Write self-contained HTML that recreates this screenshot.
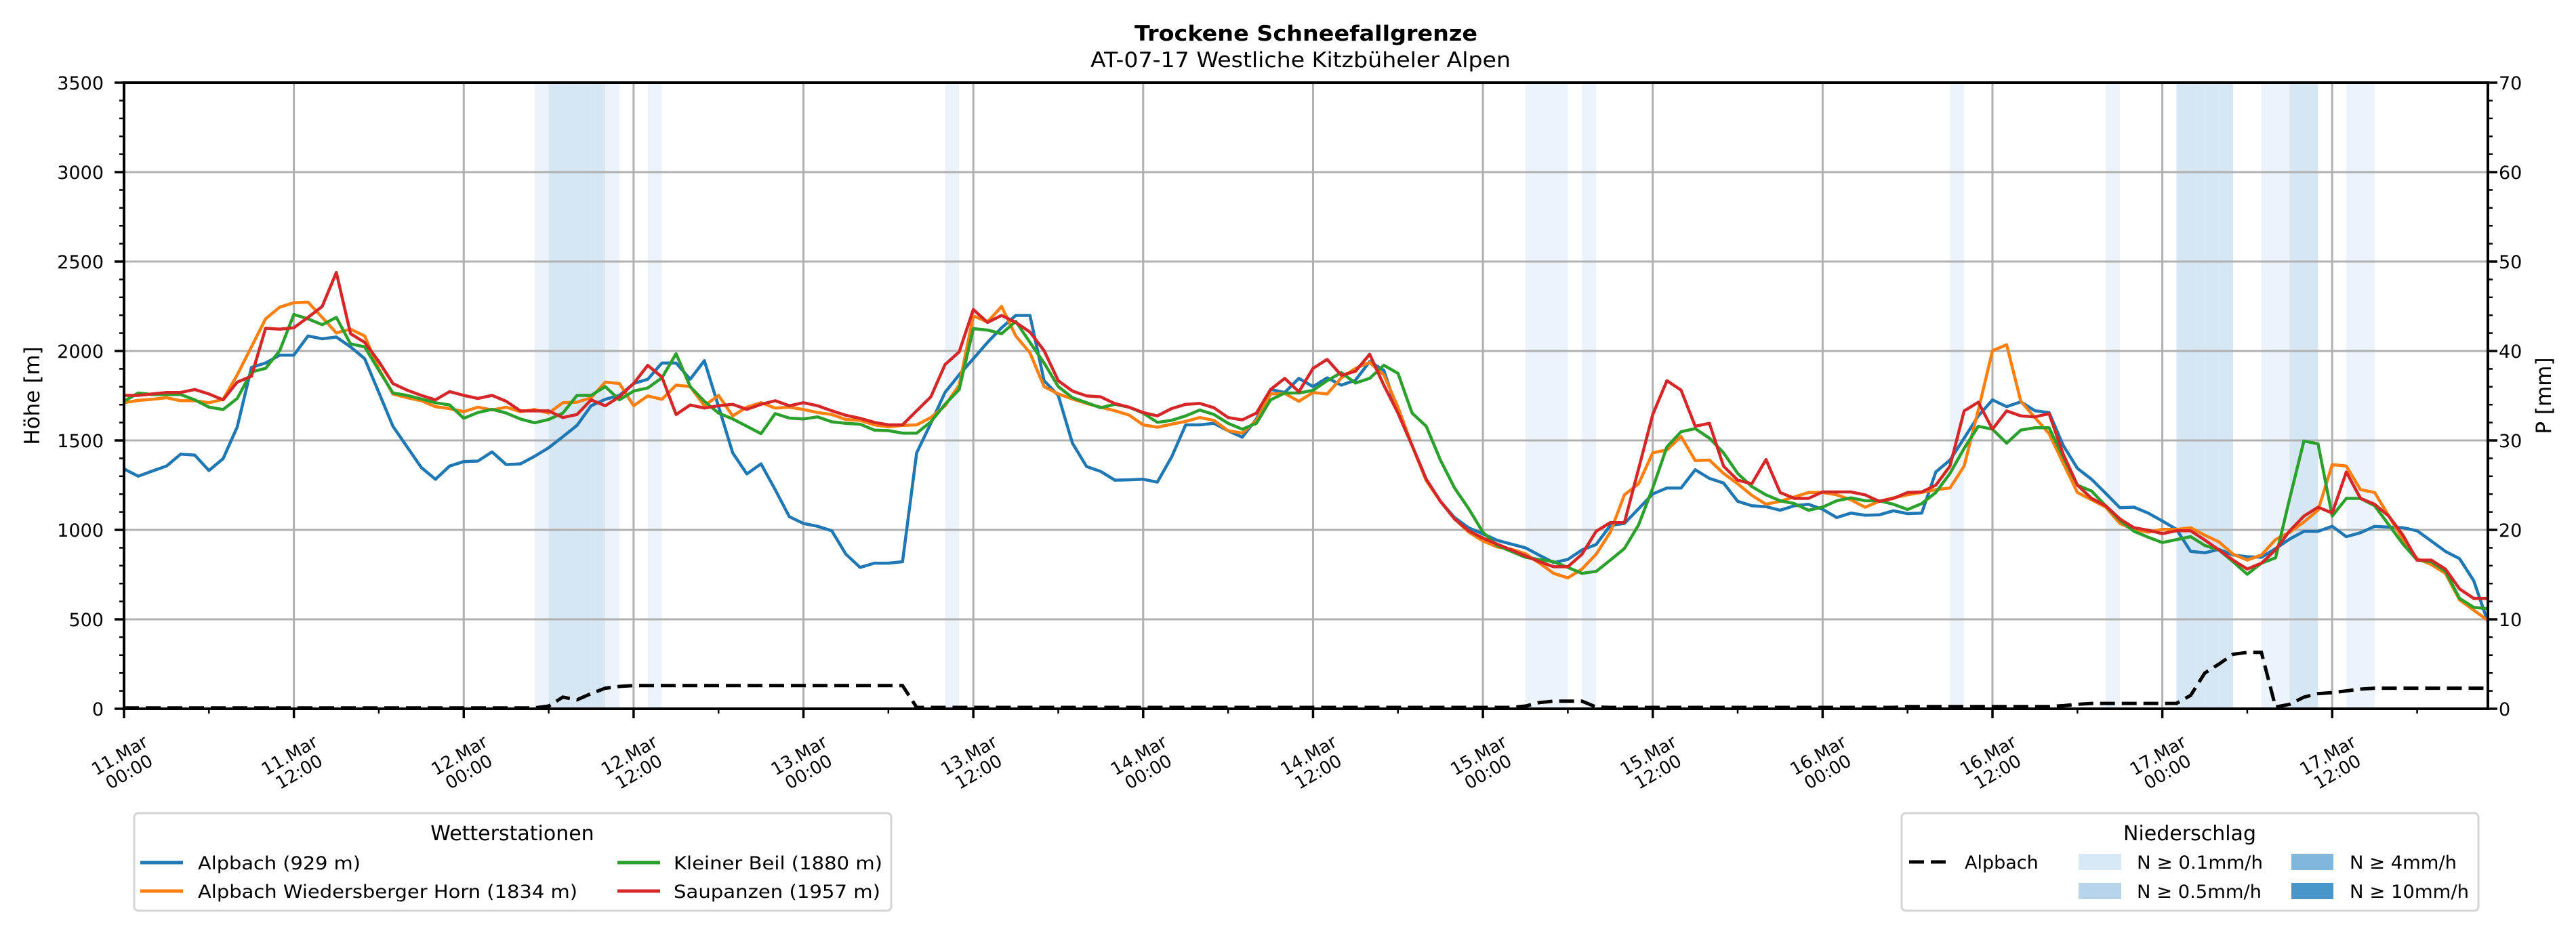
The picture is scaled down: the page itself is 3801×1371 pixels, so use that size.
<!DOCTYPE html>
<html><head><meta charset="utf-8"><title>Trockene Schneefallgrenze</title>
<style>
html,body{margin:0;padding:0;background:#fff;}
svg{display:block;font-family:"Liberation Sans","DejaVu Sans",sans-serif;}
</style></head>
<body>
<svg id="chart" width="3801" height="1371" viewBox="0 0 3801 1371" xmlns="http://www.w3.org/2000/svg">
<rect x="0" y="0" width="3801" height="1371" fill="#fff"/>
<text x="1927" y="60" text-anchor="middle" font-size="31" font-weight="bold" textLength="506" lengthAdjust="spacingAndGlyphs" font-family="DejaVu Sans, Liberation Sans, sans-serif">Trockene Schneefallgrenze</text>
<text x="1919" y="99" text-anchor="middle" font-size="31" textLength="620" lengthAdjust="spacingAndGlyphs" font-family="DejaVu Sans, Liberation Sans, sans-serif">AT-07-17 Westliche Kitzbüheler Alpen</text>
<g id="bands"></g>
<g id="grid"></g>
<g id="series"></g>
<g id="axes"></g>
<text transform="translate(58,584) rotate(-90)" text-anchor="middle" font-size="31" font-family="DejaVu Sans, Liberation Sans, sans-serif">Höhe [m]</text>
<text transform="translate(3764,584) rotate(-90)" text-anchor="middle" font-size="31" font-family="DejaVu Sans, Liberation Sans, sans-serif">P [mm]</text>
<g id="legend1">
<rect x="198" y="1200" width="1117" height="144" rx="6" fill="#fff" stroke="#d4d4d4" stroke-width="3"/>
<text x="756" y="1240" text-anchor="middle" font-size="30" font-family="DejaVu Sans, Liberation Sans, sans-serif">Wetterstationen</text>
<g><line x1="207" y1="1273" x2="270" y2="1273" stroke="#1f77b4" stroke-width="5"/><text x="292" y="1283" font-size="27" font-family="DejaVu Sans, Liberation Sans, sans-serif" textLength="240" lengthAdjust="spacingAndGlyphs">Alpbach (929 m)</text></g>
<g><line x1="207" y1="1315" x2="270" y2="1315" stroke="#ff7f0e" stroke-width="5"/><text x="292" y="1325" font-size="27" font-family="DejaVu Sans, Liberation Sans, sans-serif" textLength="560" lengthAdjust="spacingAndGlyphs">Alpbach Wiedersberger Horn (1834 m)</text></g>
<g><line x1="911" y1="1273" x2="974" y2="1273" stroke="#2ca02c" stroke-width="5"/><text x="994" y="1283" font-size="27" font-family="DejaVu Sans, Liberation Sans, sans-serif" textLength="308" lengthAdjust="spacingAndGlyphs">Kleiner Beil (1880 m)</text></g>
<g><line x1="911" y1="1315" x2="974" y2="1315" stroke="#d62728" stroke-width="5"/><text x="994" y="1325" font-size="27" font-family="DejaVu Sans, Liberation Sans, sans-serif" textLength="305" lengthAdjust="spacingAndGlyphs">Saupanzen (1957 m)</text></g>
</g>
<g id="legend2">
<rect x="2806" y="1200" width="851" height="144" rx="6" fill="#fff" stroke="#d4d4d4" stroke-width="3"/>
<text x="3231" y="1240" text-anchor="middle" font-size="30" font-family="DejaVu Sans, Liberation Sans, sans-serif">Niederschlag</text>
<g><line x1="2817" y1="1272" x2="2872" y2="1272" stroke="#000" stroke-width="5" stroke-dasharray="22 10"/><text x="2899" y="1282" font-size="27" font-family="DejaVu Sans, Liberation Sans, sans-serif">Alpbach</text></g>
<g><rect x="3067" y="1260" width="63" height="24" fill="#d9e8f5"/><text x="3153" y="1282" font-size="27" font-family="DejaVu Sans, Liberation Sans, sans-serif" textLength="186" lengthAdjust="spacingAndGlyphs">N ≥ 0.1mm/h</text></g>
<g><rect x="3067" y="1303" width="63" height="24" fill="#b8d4ea"/><text x="3153" y="1325" font-size="27" font-family="DejaVu Sans, Liberation Sans, sans-serif" textLength="184" lengthAdjust="spacingAndGlyphs">N ≥ 0.5mm/h</text></g>
<g><rect x="3381" y="1260" width="62" height="24" fill="#80b7da"/><text x="3467" y="1282" font-size="27" font-family="DejaVu Sans, Liberation Sans, sans-serif" textLength="158" lengthAdjust="spacingAndGlyphs">N ≥ 4mm/h</text></g>
<g><rect x="3381" y="1303" width="62" height="24" fill="#4a96c9"/><text x="3467" y="1325" font-size="27" font-family="DejaVu Sans, Liberation Sans, sans-serif" textLength="176" lengthAdjust="spacingAndGlyphs">N ≥ 10mm/h</text></g>
</g>
</svg>
<script>
// ---- data (hourly, starting 11.Mar 00:00) ----
const alpbach = [1341,1300,1329,1357,1423,1418,1332,1398,1576,1908,1933,1977,1977,2084,2068,2078,2023,1957,1768,1579,1464,1349,1283,1357,1382,1385,1436,1365,1369,1411,1459,1521,1584,1694,1730,1752,1818,1842,1933,1933,1842,1946,1690,1431,1313,1369,1225,1074,1036,1020,995,864,790,814,814,822,1431,1596,1768,1867,1957,2048,2130,2199,2199,1834,1752,1485,1354,1327,1278,1280,1283,1267,1406,1587,1587,1596,1554,1518,1620,1785,1768,1847,1801,1850,1809,1837,1941,1892,1653,1472,1283,1160,1069,1011,978,942,921,900,858,817,835,888,918,1025,1036,1118,1201,1234,1234,1336,1288,1262,1160,1135,1130,1110,1135,1143,1115,1069,1094,1082,1084,1107,1091,1094,1324,1390,1513,1637,1727,1689,1716,1666,1656,1472,1344,1283,1204,1124,1127,1094,1050,1003,880,872,891,860,850,847,896,949,992,992,1020,962,984,1020,1015,1012,995,938,880,839,716,485];
const wiedersberger = [1711,1724,1730,1739,1722,1722,1711,1730,1867,2023,2180,2245,2270,2273,2188,2101,2122,2084,1900,1760,1739,1722,1689,1678,1661,1686,1670,1686,1661,1673,1653,1711,1714,1739,1826,1818,1694,1749,1730,1809,1801,1694,1752,1637,1686,1711,1681,1686,1673,1656,1645,1617,1612,1587,1576,1584,1587,1628,1694,1809,2196,2163,2249,2084,1990,1801,1760,1732,1707,1686,1666,1642,1587,1574,1591,1607,1628,1612,1554,1541,1612,1760,1763,1719,1768,1760,1850,1903,1936,1867,1686,1472,1275,1160,1061,987,938,905,892,867,814,757,732,781,864,987,1196,1258,1431,1447,1522,1387,1390,1316,1258,1193,1143,1160,1184,1209,1209,1196,1168,1127,1160,1179,1196,1209,1225,1234,1357,1670,2002,2035,1719,1628,1538,1373,1209,1168,1127,1036,1003,987,1003,1003,1012,970,933,864,831,860,946,987,1044,1110,1365,1357,1225,1209,1077,946,839,806,757,609,551,494];
const kleinerBeil = [1719,1765,1757,1757,1757,1727,1686,1673,1735,1883,1903,2002,2204,2180,2147,2188,2040,2023,1892,1765,1752,1732,1711,1698,1624,1656,1674,1653,1620,1599,1617,1653,1752,1752,1801,1727,1776,1793,1850,1985,1801,1719,1653,1620,1579,1538,1650,1625,1620,1632,1604,1596,1591,1558,1555,1541,1541,1604,1702,1785,2125,2117,2097,2166,2048,1933,1801,1739,1711,1683,1702,1686,1653,1601,1612,1637,1670,1645,1596,1563,1596,1727,1765,1765,1780,1834,1879,1821,1847,1920,1875,1653,1579,1390,1234,1118,987,913,880,847,834,822,790,757,768,831,896,1028,1234,1464,1549,1566,1513,1431,1316,1242,1196,1163,1147,1110,1127,1163,1179,1163,1163,1143,1114,1147,1209,1316,1456,1579,1563,1485,1558,1571,1571,1406,1250,1217,1135,1053,992,959,929,946,962,913,888,822,752,814,844,1176,1497,1481,1077,1176,1176,1135,1028,921,831,822,768,617,567,559];
const saupanzen = [1752,1752,1760,1768,1768,1785,1760,1727,1826,1859,2127,2122,2130,2188,2249,2439,2097,2048,1941,1818,1781,1752,1727,1773,1752,1735,1752,1719,1665,1665,1665,1628,1645,1727,1694,1744,1818,1920,1854,1645,1698,1681,1694,1702,1674,1702,1722,1694,1711,1694,1666,1640,1624,1601,1587,1587,1666,1744,1924,1995,2232,2160,2199,2160,2106,2002,1834,1776,1749,1744,1706,1686,1656,1637,1678,1702,1707,1683,1628,1615,1653,1785,1847,1772,1903,1953,1864,1887,1982,1809,1653,1472,1283,1160,1061,995,954,921,888,855,822,794,794,864,992,1041,1041,1341,1645,1834,1781,1579,1596,1357,1278,1258,1393,1209,1176,1176,1212,1212,1212,1196,1160,1176,1209,1212,1250,1357,1665,1714,1563,1665,1637,1632,1650,1423,1250,1176,1135,1061,1012,998,979,995,995,943,888,831,781,814,888,995,1077,1127,1094,1324,1176,1143,1077,970,831,831,781,670,617,617];
const precipAlpbach = [0.1,0.1,0.1,0.1,0.1,0.1,0.1,0.1,0.1,0.1,0.1,0.1,0.1,0.1,0.1,0.1,0.1,0.1,0.1,0.1,0.1,0.1,0.1,0.1,0.1,0.1,0.1,0.1,0.1,0.1,
0.3,1.3,1.0,1.7,2.3,2.5,
2.6,2.6,2.6,2.6,2.6,2.6,2.6,2.6,2.6,2.6,2.6,2.6,2.6,2.6,2.6,2.6,2.6,2.6,2.6,2.6,
0.15,0.15,0.15,0.15,0.15,0.15,0.15,0.15,0.15,0.15,0.15,0.15,0.15,0.15,0.15,0.15,0.15,0.15,0.15,0.15,0.15,0.15,0.15,0.15,0.15,0.15,0.15,0.15,0.15,0.15,0.15,0.15,0.15,0.15,0.15,0.15,0.15,0.15,0.15,0.15,0.15,0.15,0.15,
0.3,0.7,0.85,0.85,0.85,0.2,
0.15,0.15,0.15,0.15,0.15,0.15,0.15,0.15,0.15,0.15,0.15,0.15,0.15,0.15,0.15,0.15,0.15,0.15,0.15,0.15,0.15,
0.25,0.25,0.25,0.25,0.25,0.25,0.25,0.25,0.25,0.25,0.25,
0.35,0.5,0.6,0.6,0.6,0.6,0.6,0.6,0.6,
1.5,4.0,5.0,6.1,6.3,6.3,
0.2,0.5,1.3,1.7,1.8,2.0,2.2,
2.3,2.3,2.3,2.3,2.3,2.3,2.3,2.3,2.3];
const bandHours  = [29,30,31,32,33,34,37,58,99,100,101,103,129,140,145,146,147,148,151,152,153,154,157,158];
const bandLevels = [1,2,2,2,2,1,1,1,1,1,1,1,1,1,2,2,2,2,1,1,2,2,1,1];
const yTicksLeft = [0,500,1000,1500,2000,2500,3000,3500];
const yTicksRight = [0,10,20,30,40,50,60,70];
const xTickHours = [0,12,24,36,48,60,72,84,96,108,120,132,144,156];
const xTickLine1 = ["11.Mar","11.Mar","12.Mar","12.Mar","13.Mar","13.Mar","14.Mar","14.Mar","15.Mar","15.Mar","16.Mar","16.Mar","17.Mar","17.Mar"];
const xTickLine2 = ["00:00","12:00","00:00","12:00","00:00","12:00","00:00","12:00","00:00","12:00","00:00","12:00","00:00","12:00"];

// ---- layout ----
const NS = "http://www.w3.org/2000/svg";
const L = 183, R = 3671, T = 122, B = 1046;
const HMAX = 167, YMAX = 3500, PMAX = 70;
const x = h => L + h * (R - L) / HMAX;
const yL = v => B - v * (B - T) / YMAX;
const yR = p => B - p * (B - T) / PMAX;
const bandColors = ["none", "#edf3fa", "#d6e6f3", "#80b7da", "#4a96c9"];
function mk(tag, attrs, parent) {
  const e = document.createElementNS(NS, tag);
  for (const k in attrs) e.setAttribute(k, attrs[k]);
  parent.appendChild(e);
  return e;
}
const gB = document.getElementById('bands');
const gG = document.getElementById('grid');
const gS = document.getElementById('series');
const gA = document.getElementById('axes');

bandHours.forEach((h, i) => {
  const r = mk('rect', {x: x(h), y: T, width: x(h + 1) - x(h), height: B - T, fill: bandColors[bandLevels[i]]}, gB);
  
  
});

yTicksLeft.forEach(v => {
  const g = mk('line', {x1: L, x2: R, y1: yL(v), y2: yL(v), stroke: '#b0b0b0', 'stroke-width': 3}, gG);
  
  
});
xTickHours.forEach(h => {
  const g = mk('line', {x1: x(h), x2: x(h), y1: T, y2: B, stroke: '#b0b0b0', 'stroke-width': 3}, gG);
  
  
});

function linePath(arr, yf) {
  return arr.map((v, i) => (i ? 'L' : 'M') + x(i).toFixed(1) + ' ' + yf(v).toFixed(1)).join(' ');
}
const series = [
  ['series-alpbach', alpbach, '#1f77b4'],
  ['series-wiedersberger-horn', wiedersberger, '#ff7f0e'],
  ['series-kleiner-beil', kleinerBeil, '#2ca02c'],
  ['series-saupanzen', saupanzen, '#d62728']
];
series.forEach(s => {
  const p = mk('path', {d: linePath(s[1], yL), fill: 'none', stroke: s[2], 'stroke-width': 4.5, 'stroke-linejoin': 'round'}, gS);
  
  
});
const pp = mk('path', {d: linePath(precipAlpbach, yR), fill: 'none', stroke: '#000', 'stroke-width': 5, 'stroke-dasharray': '22 10'}, gS);



// axes frame
const fr = mk('rect', {x: L, y: T, width: R - L, height: B - T, fill: 'none', stroke: '#000', 'stroke-width': 4}, gA);



// left y ticks
for (let v = 0; v <= YMAX; v += 100) {
  const major = v % 500 === 0;
  mk('line', {x1: L - (major ? 14 : 7), x2: L, y1: yL(v), y2: yL(v), stroke: '#000', 'stroke-width': major ? 3.5 : 2.5}, gA);
  const rv = v / 50;
  mk('line', {x1: R, x2: R + (major ? 14 : 7), y1: yR(rv), y2: yR(rv), stroke: '#000', 'stroke-width': major ? 3.5 : 2.5}, gA);
}
yTicksLeft.forEach(v => {
  const t = mk('text', {x: 153, y: yL(v) + 10, 'text-anchor': 'end', 'font-size': 27, 'font-family': 'DejaVu Sans, Liberation Sans, sans-serif'}, gA);
  t.textContent = v;
  
  
});
yTicksRight.forEach(v => {
  const t = mk('text', {x: 3687, y: yR(v) + 10, 'text-anchor': 'start', 'font-size': 27, 'font-family': 'DejaVu Sans, Liberation Sans, sans-serif'}, gA);
  t.textContent = v;
  
  
});
// x ticks
for (let h = 0; h <= HMAX; h += 6) {
  const major = h % 12 === 0;
  mk('line', {x1: x(h), x2: x(h), y1: B, y2: B + (major ? 14 : 7), stroke: '#000', 'stroke-width': major ? 3.5 : 2.5}, gA);
}
xTickHours.forEach((h, i) => {
  const g = mk('g', {transform: 'translate(' + x(h).toFixed(1) + ',1126) rotate(-30)'}, gA);
  
  
  const t1 = mk('text', {x: 0, y: -4, 'text-anchor': 'middle', 'font-size': 26, 'font-family': 'DejaVu Sans, Liberation Sans, sans-serif'}, g);
  t1.textContent = xTickLine1[i];
  const t2 = mk('text', {x: 0, y: 24, 'text-anchor': 'middle', 'font-size': 26, 'font-family': 'DejaVu Sans, Liberation Sans, sans-serif'}, g);
  t2.textContent = xTickLine2[i];
});
</script>
</body></html>
